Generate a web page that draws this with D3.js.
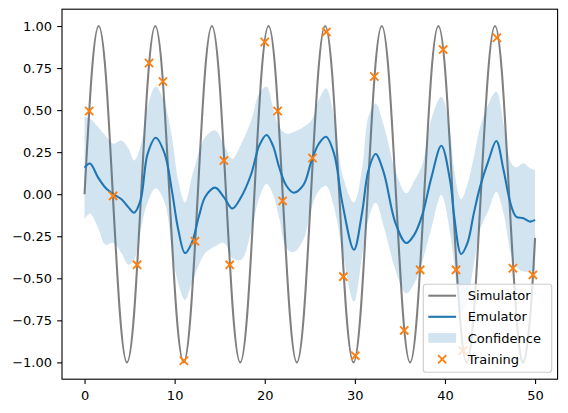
<!DOCTYPE html>
<html>
<head>
<meta charset="utf-8">
<script src="https://cdn.jsdelivr.net/npm/d3@7"></script>
<style>
  html, body { margin: 0; padding: 0; background: #fff; }
  svg text { font-family: "DejaVu Sans", sans-serif; }
</style>
</head>
<body>
<svg id="chart" width="568" height="413"></svg>
<script>
// ---------------- data ----------------
// Simulator (grey curve), sampled at quarter periods
const simX = [0, 0.79, 1.57, 2.36, 3.14, 3.93, 4.71, 5.50, 6.28, 7.07, 7.85, 8.64, 9.42, 10.21, 11.00, 11.78,
  12.57, 13.35, 14.14, 14.92, 15.71, 16.49, 17.28, 18.06, 18.85, 19.63, 20.42, 21.21, 21.99, 22.78, 23.56, 24.35,
  25.13, 25.92, 26.70, 27.49, 28.27, 29.06, 29.85, 30.63, 31.42, 32.20, 32.99, 33.77, 34.56, 35.34, 36.13, 36.91,
  37.70, 38.48, 39.27, 40.06, 40.84, 41.63, 42.41, 43.20, 43.98, 44.77, 45.55, 46.34, 47.12, 47.91, 48.69, 49.48, 50];
const simY = [0, 0.71, 1, 0.71, 0, -0.71, -1, -0.71, 0, 0.71, 1, 0.71, 0, -0.71, -1, -0.71,
  0, 0.71, 1, 0.71, 0, -0.71, -1, -0.71, 0, 0.71, 1, 0.71, 0, -0.71, -1, -0.71,
  0, 0.71, 1, 0.71, 0, -0.71, -1, -0.71, 0, 0.71, 1, 0.71, 0, -0.71, -1, -0.71,
  0, 0.71, 1, 0.71, 0, -0.71, -1, -0.71, 0, 0.71, 1, 0.71, 0, -0.71, -1, -0.71, -0.26];

// Emulator mean and confidence band
const emuX = [0, 0.6, 1.5, 2.3, 3.2, 4.1, 4.9, 5.5, 6.2, 7.0, 7.9, 8.9, 9.7, 10.4, 11.15, 11.9, 12.7, 13.4,
  14.5, 15.5, 16.4, 17.4, 18.5, 19.4, 20.2, 20.9, 21.6, 22.4, 23.2, 24.3, 25.2, 26.0, 26.8, 27.7, 28.6, 29.9,
  30.8, 31.5, 32.3, 33.2, 34.5, 35.7, 36.6, 37.5, 38.5, 39.6, 40.6, 41.0, 41.8, 42.5, 43.2, 43.9, 44.85, 45.7,
  46.5, 47.3, 47.9, 48.7, 49.45, 50];
const emuMean = [0.158, 0.182, 0.10, 0.04, 0.0, -0.03, -0.08, -0.11, -0.04, 0.24, 0.336, 0.24, 0.02, -0.21, -0.35, -0.29, -0.13, -0.015,
  0.039, -0.02, -0.085, -0.015, 0.12, 0.29, 0.352, 0.29, 0.16, 0.05, 0.009, 0.055, 0.20, 0.30, 0.342, 0.24, -0.05, -0.33,
  -0.11, 0.14, 0.239, 0.13, -0.17, -0.29, -0.24, -0.12, 0.10, 0.288, 0.07, -0.12, -0.356, -0.29, -0.114, 0.045, 0.203, 0.316,
  0.144, -0.06, -0.134, -0.143, -0.163, -0.153];
const emuUpper = [0.46, 0.45, 0.40, 0.35, 0.30, 0.32, 0.27, 0.20, 0.28, 0.52, 0.64, 0.54, 0.34, 0.08, -0.05, 0.10, 0.25, 0.34,
  0.38, 0.29, 0.21, 0.30, 0.44, 0.60, 0.64, 0.52, 0.40, 0.36, 0.37, 0.40, 0.44, 0.56, 0.63, 0.46, 0.12, -0.05,
  0.15, 0.46, 0.54, 0.41, 0.14, 0.005, 0.08, 0.18, 0.45, 0.58, 0.36, 0.15, -0.03, 0.06, 0.22, 0.40, 0.54, 0.61,
  0.42, 0.19, 0.16, 0.184, 0.154, 0.144];
const emuLower = [-0.15, -0.115, -0.20, -0.30, -0.29, -0.35, -0.42, -0.39, -0.22, -0.05, 0.035, -0.05, -0.33, -0.53, -0.63, -0.53, -0.42, -0.35,
  -0.31, -0.29, -0.38, -0.39, -0.22, -0.02, 0.06, 0.0, -0.14, -0.32, -0.345, -0.27, -0.08, 0.02, 0.05, -0.08, -0.33, -0.64,
  -0.37, -0.15, -0.05, -0.19, -0.45, -0.59, -0.53, -0.40, -0.20, -0.005, -0.24, -0.40, -0.70, -0.62, -0.42, -0.21, -0.094, 0.015,
  -0.114, -0.35, -0.43, -0.46, -0.46, -0.45];

// Training points
const trainX = [0.52, 3.17, 5.83, 7.16, 8.70, 11.03, 12.26, 15.47, 16.11, 20.0, 21.43, 21.98, 25.30, 26.84,
  28.72, 30.05, 32.16, 35.48, 37.25, 39.80, 41.23, 42.0, 45.76, 47.54, 49.76];
const trainY = [0.495, -0.01, -0.42, 0.78, 0.67, -0.99, -0.28, 0.20, -0.42, 0.905, 0.495, -0.04, 0.215, 0.965,
  -0.49, -0.96, 0.70, -0.81, -0.45, 0.86, -0.45, -0.93, 0.93, -0.44, -0.48];

const xTicks = [0, 10, 20, 30, 40, 50];
const yTicks = [-1.00, -0.75, -0.50, -0.25, 0.00, 0.25, 0.50, 0.75, 1.00];
const legendLabels = ["Simulator", "Emulator", "Confidence", "Training"];

// ---------------- layout ----------------
const svg = d3.select("#chart");
const L = 62, R = 557.6, T = 9.2, B = 379.2;
const x = d3.scaleLinear().domain([-2.5, 52.5]).range([L, R]);
const y = d3.scaleLinear().domain([-1.1, 1.1]).range([B, T]);

const C_SIM = "#808080", C_EMU = "#1f77b4", C_TRAIN = "#ff7f0e";
const FS = 13;

// simulator
const simData = simX.map((d, i) => [d, simY[i]]);
svg.append("path")
  .datum(simData)
  .attr("fill", "none")
  .attr("stroke", C_SIM)
  .attr("stroke-width", 2.08)
  .attr("d", d3.line().x(d => x(d[0])).y(d => y(d[1])).curve(d3.curveNatural));

// emulator
const emuData = emuX.map((d, i) => ({ x: d, m: emuMean[i], lo: emuLower[i], hi: emuUpper[i] }));
svg.append("path")
  .datum(emuData)
  .attr("fill", "none")
  .attr("stroke", C_EMU)
  .attr("stroke-width", 2.08)
  .attr("d", d3.line().x(d => x(d.x)).y(d => y(d.m)).curve(d3.curveCatmullRom.alpha(0.5)));

// confidence band
svg.append("path")
  .datum(emuData)
  .attr("fill", C_EMU)
  .attr("fill-opacity", 0.2)
  .attr("stroke", "none")
  .attr("d", d3.area().x(d => x(d.x)).y0(d => y(d.lo)).y1(d => y(d.hi)).curve(d3.curveCatmullRom.alpha(0.5)));

// training markers
const MS = 4.1;
function xMarker(g, cx, cy) {
  g.append("path")
    .attr("d", `M${cx - MS},${cy - MS}L${cx + MS},${cy + MS}M${cx - MS},${cy + MS}L${cx + MS},${cy - MS}`)
    .attr("stroke", C_TRAIN)
    .attr("stroke-width", 1.9)
    .attr("fill", "none");
}
const gTrain = svg.append("g");
trainX.forEach((d, i) => xMarker(gTrain, x(d), y(trainY[i])));

// axes
const fmtY = d => d3.format(".2f")(d).replace("-", "\u2212");
const gx = svg.append("g").attr("transform", `translate(0,${B})`)
  .call(d3.axisBottom(x).tickValues(xTicks).tickFormat(d3.format("d")).tickSize(4.86).tickPadding(6.8).tickSizeOuter(0));
const gy = svg.append("g").attr("transform", `translate(${L},0)`)
  .call(d3.axisLeft(y).tickValues(yTicks).tickFormat(fmtY).tickSize(4.86).tickPadding(5.1).tickSizeOuter(0));
[gx, gy].forEach(g => {
  g.select(".domain").remove();
  g.selectAll(".tick line").attr("stroke", "#000").attr("stroke-width", 1.1);
  g.selectAll(".tick text").attr("fill", "#000").style("font-size", FS + "px").style("font-family", "DejaVu Sans, sans-serif");
});

// frame
svg.append("rect")
  .attr("x", L).attr("y", T).attr("width", R - L).attr("height", B - T)
  .attr("fill", "none").attr("stroke", "#000").attr("stroke-width", 1.1);

// legend
const lg = svg.append("g");
const lx0 = 423.3, ly0 = 284.3, lw = 128.4, lh = 88;
lg.append("rect")
  .attr("x", lx0).attr("y", ly0).attr("width", lw).attr("height", lh)
  .attr("rx", 2.8).attr("ry", 2.8)
  .attr("fill", "#fff").attr("fill-opacity", 0.8)
  .attr("stroke", "#cccccc").attr("stroke-width", 1.1);
const rowY = [295.7, 316.8, 338.0, 359.2];
const hx0 = 428.3, hx1 = 456.1, tx = 467.8;
legendLabels.forEach((lab, i) => {
  const cy = rowY[i];
  if (i === 0 || i === 1) {
    lg.append("line").attr("x1", hx0).attr("x2", hx1).attr("y1", cy).attr("y2", cy)
      .attr("stroke", i === 0 ? C_SIM : C_EMU).attr("stroke-width", 2.08);
  } else if (i === 2) {
    lg.append("rect").attr("x", hx0).attr("y", cy - 4.9).attr("width", hx1 - hx0).attr("height", 9.7)
      .attr("fill", C_EMU).attr("fill-opacity", 0.2);
  } else {
    xMarker(lg, (hx0 + hx1) / 2, cy);
  }
  lg.append("text").attr("x", tx).attr("y", cy).attr("dy", "0.36em")
    .style("font-size", FS + "px").attr("fill", "#000").text(lab);
});
</script>
</body>
</html>
